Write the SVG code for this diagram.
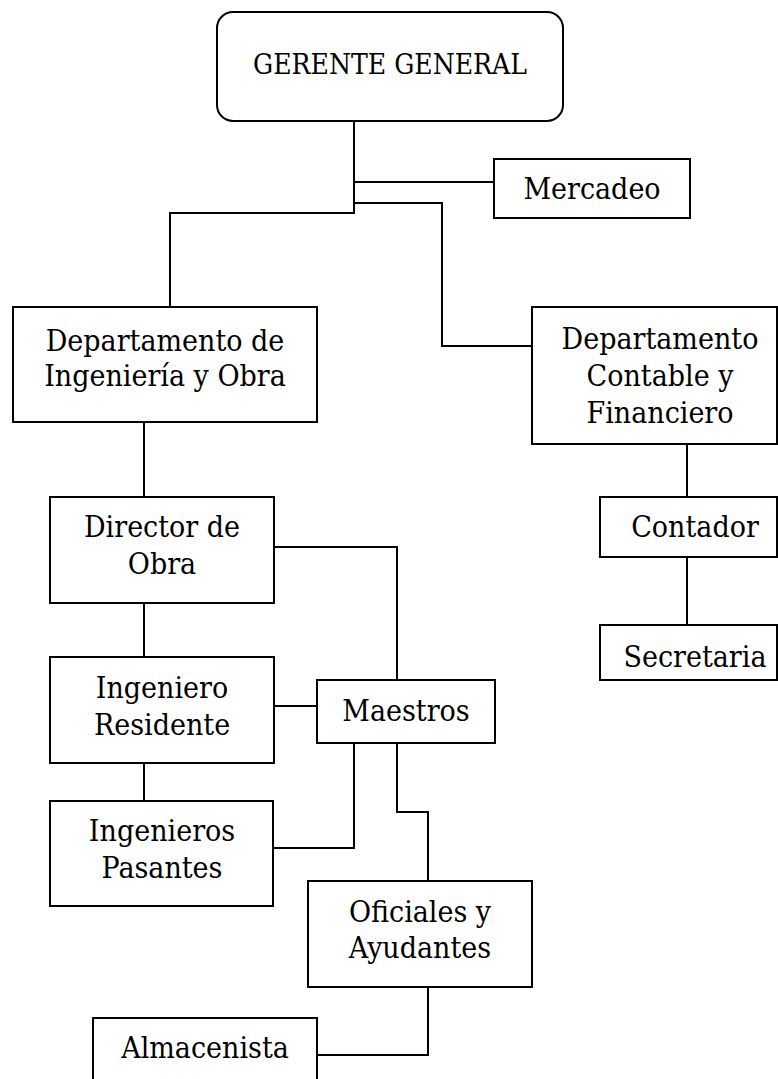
<svg xmlns="http://www.w3.org/2000/svg" width="778" height="1079" viewBox="0 0 778 1079">
<style>
.box{fill:#fff;stroke:#000;stroke-width:2}
.con{fill:none;stroke:#000;stroke-width:2}
text{font-family:"DejaVu Serif Condensed","DejaVu Serif","Liberation Serif",serif;font-stretch:condensed;font-size:30px;fill:#000;text-anchor:middle}
.title{font-size:28px}
</style>
<rect width="778" height="1079" fill="#fff"/>
<g id="connectors">
<path class="con" d="M354,121 V213 H170 V307"/>
<path class="con" d="M354,182 H494"/>
<path class="con" d="M354,203 H442 V346 H532"/>
<path class="con" d="M144,422 V497"/>
<path class="con" d="M687,444 V497"/>
<path class="con" d="M687,557 V625"/>
<path class="con" d="M274,547 H397 V680"/>
<path class="con" d="M144,603 V657"/>
<path class="con" d="M274,706 H317"/>
<path class="con" d="M144,763 V801"/>
<path class="con" d="M273,848 H354 V743"/>
<path class="con" d="M397,743 V812 H428 V881"/>
<path class="con" d="M428,987 V1055 H317"/>
</g>
<g id="gerente">
<rect class="box" x="217" y="12" width="346" height="109" rx="16"/>
<text class="title" x="390" y="74">GERENTE GENERAL</text>
</g>
<g id="mercadeo">
<rect class="box" x="494" y="159" width="196" height="59"/>
<text x="592" y="199">Mercadeo</text>
</g>
<g id="dept-ingenieria">
<rect class="box" x="13" y="307" width="304" height="115"/>
<text x="165" y="351">Departamento de</text>
<text x="165" y="386">Ingeniería y Obra</text>
</g>
<g id="dept-contable">
<rect class="box" x="532" y="307" width="245" height="137"/>
<text x="660" y="349">Departamento</text>
<text x="660" y="386">Contable y</text>
<text x="660" y="423">Financiero</text>
</g>
<g id="contador">
<rect class="box" x="600" y="497" width="177" height="60"/>
<text x="695" y="537">Contador</text>
</g>
<g id="secretaria">
<rect class="box" x="600" y="625" width="177" height="55"/>
<text x="695" y="667">Secretaria</text>
</g>
<g id="director">
<rect class="box" x="50" y="497" width="224" height="106"/>
<text x="162" y="537">Director de</text>
<text x="162" y="574">Obra</text>
</g>
<g id="ing-residente">
<rect class="box" x="50" y="657" width="224" height="106"/>
<text x="162" y="698">Ingeniero</text>
<text x="162" y="735">Residente</text>
</g>
<g id="maestros">
<rect class="box" x="317" y="680" width="178" height="63"/>
<text x="406" y="721">Maestros</text>
</g>
<g id="ing-pasantes">
<rect class="box" x="50" y="801" width="223" height="105"/>
<text x="162" y="841">Ingenieros</text>
<text x="162" y="878">Pasantes</text>
</g>
<g id="oficiales">
<rect class="box" x="308" y="881" width="224" height="106"/>
<text x="420" y="922">Oficiales y</text>
<text x="420" y="958">Ayudantes</text>
</g>
<g id="almacenista">
<rect class="box" x="93" y="1018" width="224" height="75"/>
<text x="205" y="1058">Almacenista</text>
</g>
</svg>
